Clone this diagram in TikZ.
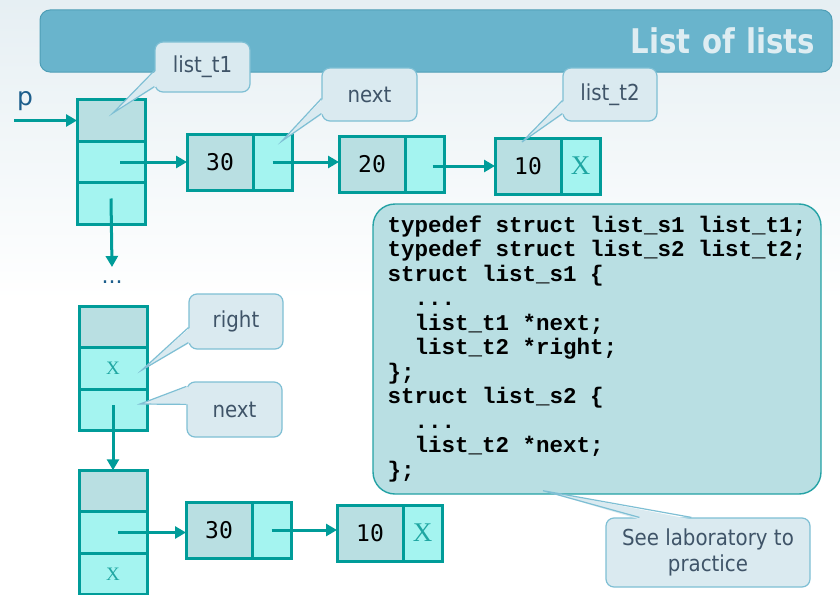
\documentclass[tikz,border=0pt]{standalone}
\usepackage{fontspec}
\setmainfont{DejaVu Sans}
\newfontfamily\callfont{DejaVu Sans}[FakeStretch=0.9]
\newfontfamily\titlefont{DejaVu Sans}[FakeStretch=0.86]
\newfontfamily\numfont{DejaVu Sans Mono}
\newfontfamily\codefont{Liberation Mono}
\newfontfamily\xfont{Liberation Serif}
\usepackage{tikz}
\usetikzlibrary{arrows.meta,positioning}
\usepackage{xcolor}
\definecolor{cellline}{HTML}{009C99}
\definecolor{keyfill}{HTML}{B9DFE2}
\definecolor{ptrfill}{HTML}{A4F4F0}
\definecolor{xcol}{HTML}{1FA6A2}
\definecolor{callfill}{HTML}{DAEAF0}
\definecolor{callline}{HTML}{7EBFD4}
\definecolor{calltext}{HTML}{3F5468}
\definecolor{codefill}{HTML}{B9DFE3}
\definecolor{codeline}{HTML}{25A2A5}
\definecolor{barfill}{HTML}{69B4CC}
\definecolor{barline}{HTML}{4E9EB6}
\definecolor{titletext}{HTML}{DEEDF2}
\definecolor{ptext}{HTML}{1D5E8C}
\definecolor{bgtop}{HTML}{E6EFF3}

\begin{document}
\begin{tikzpicture}[
  x=1pt, y=-1pt,
  >={Triangle[length=11pt,width=12pt]},
  cell/.style={draw=cellline, line width=3pt, outer sep=0pt, inner sep=0pt},
  vkey/.style={cell, fill=keyfill, minimum width=68pt, minimum height=41.5pt},
  vptr/.style={cell, fill=ptrfill, minimum width=68pt, minimum height=41.5pt},
  hkey/.style={cell, fill=keyfill, minimum width=66pt, minimum height=56pt, font=\numfont\fontsize{23}{23}\selectfont},
  hptr/.style={cell, fill=ptrfill, minimum width=39pt, minimum height=56pt},
  bigx/.style={text=xcol, font=\xfont\fontsize{27}{27}\selectfont},
  smallx/.style={text=xcol, font=\xfont\fontsize{19}{19}\selectfont},
  arr/.style={->, line width=3pt, draw=cellline},
  callbox/.style={draw=callline, fill=callfill, line width=1.2pt, rounded corners=8pt, align=center, text=calltext, font=\callfont\fontsize{22}{26}\selectfont},
  tipfill/.style={fill=callfill},
  tipline/.style={draw=callline, line width=1.2pt},
  codebox/.style={draw=codeline, fill=codefill, line width=1.4pt, rounded corners=22pt, align=left, inner sep=0pt, font=\codefont\bfseries\fontsize{22.5}{24.5}\selectfont},
  titlebar/.style={draw=barline, fill=barfill, line width=1pt, rounded corners=10pt, text=titletext, align=right, font=\titlefont\bfseries\fontsize{34}{34}\selectfont}
]
\useasboundingbox (0,0) rectangle (840,594);
\fill[white] (0,0) rectangle (840,594);
\shade[top color=bgtop, bottom color=white] (0,0) rectangle (840,300);

\node[titlebar, minimum height=62pt, text width=758pt, inner xsep=17pt] (title) at (436,41) {List of lists};

% first list of the main list
\node[vkey] (v1a) at (111,120.5) {};
\node[vptr, below=0pt of v1a] (v1b) {};
\node[vptr, below=0pt of v1b] (v1c) {};
\node[hkey] (la) at (220,162) {30};
\node[hptr, right=0pt of la] (lb) {};
\node[hkey] (ma) at (372,164) {20};
\node[hptr, right=0pt of ma] (mb) {};
\node[hkey] (na) at (528,166) {10};
\node[hptr, right=0pt of na, bigx] (nb) {X};

\node[text=ptext, font=\fontsize{25}{25}\selectfont, anchor=base] (p) at (25,105) {p};
\coordinate (pstart) at (14,120.5);
\node[text=ptext, font=\fontsize{22}{22}\selectfont] (dots) at (112,282) {...};

% last two elements
\node[vkey] (v2a) at (113,327) {};
\node[vptr, below=0pt of v2a, smallx] (v2b) {X};
\node[vptr, below=0pt of v2b] (v2c) {};
\node[vkey] (v3a) at (113,491) {};
\node[vptr, below=0pt of v3a] (v3b) {};
\node[vptr, below=0pt of v3b, smallx] (v3c) {X};
\node[hkey] (pa) at (219,530) {30};
\node[hptr, right=0pt of pa] (pb) {};
\node[hkey] (qa) at (370,533) {10};
\node[hptr, right=0pt of qa, bigx] (qb) {X};

\draw[arr] (pstart) -- (v1a.west);
\draw[arr] ([xshift=9pt]v1b.center) -- (v1b.center -| la.west);
\draw[arr] (lb.center) -- (lb.center -| ma.west);
\draw[arr] ([xshift=8pt]mb.center |- na.west) -- (na.west);
\draw[arr] ([yshift=5pt]v1c.center) -- ([yshift=15pt]dots.center);
\draw[arr] ([yshift=5pt]v2c.center) -- (v3a.north);
\draw[arr] ([xshift=5pt]v3b.center) -- (v3b.center -| pa.west);
\draw[arr] (pb.center) -- (pb.center -| qa.west);

\node[codebox, minimum width=448pt, minimum height=290pt] (code) at (597,349) {typedef struct list\_s1 list\_t1;\\
typedef struct list\_s2 list\_t2;\\
struct list\_s1 \{\\
\hphantom{xx}...\\
\hphantom{xx}list\_t1 *next;\\
\hphantom{xx}list\_t2 *right;\\
\};\\
struct list\_s2 \{\\
\hphantom{xx}...\\
\hphantom{xx}list\_t2 *next;\\
\};};

% callouts
\node[callbox, minimum width=95pt, minimum height=50pt] (c1) at (202.5,67) {list\_t1};
\coordinate (c1tip) at ([xshift=2pt,yshift=7.5pt]v1a.center);
\fill[tipfill] ([xshift=2pt,yshift=22pt]c1.south west) -- (c1tip) -- ([xshift=2pt,yshift=6pt]c1.south west) -- cycle;
\draw[tipline] ([yshift=22pt]c1.south west) -- (c1tip) -- ([yshift=6pt]c1.south west);

\node[callbox, minimum width=95pt, minimum height=53pt] (c2) at (369.5,94.5) {next};
\coordinate (c2tip) at ([xshift=9.5pt,yshift=21pt]lb.center);
\fill[tipfill] ([xshift=2pt,yshift=23pt]c2.south west) -- (c2tip) -- ([xshift=2pt,yshift=8pt]c2.south west) -- cycle;
\draw[tipline] ([yshift=23pt]c2.south west) -- (c2tip) -- ([yshift=8pt]c2.south west);

\node[callbox, minimum width=94pt, minimum height=53pt] (c3) at (610,94.5) {list\_t2};
\coordinate (c3tip) at ([xshift=-6pt,yshift=24pt]na.center);
\fill[tipfill] ([xshift=2pt,yshift=21pt]c3.south west) -- (c3tip) -- ([xshift=2pt,yshift=8pt]c3.south west) -- cycle;
\draw[tipline] ([yshift=21pt]c3.south west) -- (c3tip) -- ([yshift=8pt]c3.south west);

\node[callbox, minimum width=94pt, minimum height=55pt] (c4) at (236,321.5) {right};
\coordinate (c4tip) at ([xshift=29pt,yshift=-1.5pt]v2b.center);
\fill[tipfill] ([xshift=2pt,yshift=22pt]c4.south west) -- (c4tip) -- ([xshift=2pt,yshift=7pt]c4.south west) -- cycle;
\draw[tipline] ([yshift=22pt]c4.south west) -- (c4tip) -- ([yshift=7pt]c4.south west);

\node[callbox, minimum width=95pt, minimum height=55pt] (c5) at (234.5,409.5) {next};
\coordinate (c5tip) at ([xshift=27pt,yshift=6pt]v2c.center);
\fill[tipfill] ([xshift=2pt,yshift=-5pt]c5.north west) -- (c5tip) -- ([xshift=2pt,yshift=-23pt]c5.north west) -- cycle;
\draw[tipline] ([yshift=-5pt]c5.north west) -- (c5tip) -- ([yshift=-23pt]c5.north west);

\node[callbox, minimum width=204pt, minimum height=69pt] (c6) at (708,552.5) {See laboratory to\\practice};
\coordinate (c6tip) at ([xshift=-54pt,yshift=4pt]code.south);
\fill[tipfill] ([xshift=34pt,yshift=-2pt]c6.north west) -- (c6tip) -- ([xshift=86pt,yshift=-2pt]c6.north west) -- cycle;
\draw[tipline] ([xshift=34pt]c6.north west) -- (c6tip) -- ([xshift=86pt]c6.north west);
\end{tikzpicture}
\end{document}
